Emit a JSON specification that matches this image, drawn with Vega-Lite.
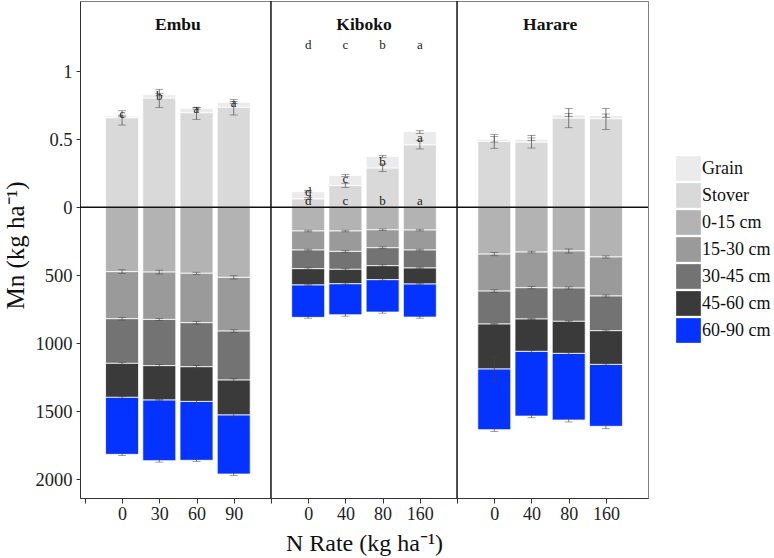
{
  "$schema": "https://vega.github.io/schema/vega-lite/v6.json",
  "autosize": "none",
  "padding": {"left": 80, "top": 1, "right": 126, "bottom": 60},
  "width": 568,
  "height": 497,
  "background": "white",
  "config": {
    "font": "Liberation Serif",
    "view": {"stroke": "#7f7f7f", "strokeWidth": 1},
    "axis": {"grid": false, "domainColor": "#333333", "tickColor": "#333333", "labelColor": "#222222", "titleColor": "#111111", "labelFont": "Liberation Serif", "titleFont": "Liberation Serif", "titleFontWeight": "normal"},
    "legend": {"labelFont": "Liberation Serif"}
  },
  "datasets": {
    "above": [
      {"grp": "Embu|0", "part": "Stover", "value": 659}, {"grp": "Embu|0", "part": "Grain", "value": 12},
      {"grp": "Embu|30", "part": "Stover", "value": 804}, {"grp": "Embu|30", "part": "Grain", "value": 24},
      {"grp": "Embu|60", "part": "Stover", "value": 696}, {"grp": "Embu|60", "part": "Grain", "value": 33},
      {"grp": "Embu|90", "part": "Stover", "value": 737}, {"grp": "Embu|90", "part": "Grain", "value": 35},
      {"grp": "Kiboko|0", "part": "Stover", "value": 63}, {"grp": "Kiboko|0", "part": "Grain", "value": 52},
      {"grp": "Kiboko|40", "part": "Stover", "value": 160}, {"grp": "Kiboko|40", "part": "Grain", "value": 74},
      {"grp": "Kiboko|80", "part": "Stover", "value": 290}, {"grp": "Kiboko|80", "part": "Grain", "value": 84},
      {"grp": "Kiboko|160", "part": "Stover", "value": 460}, {"grp": "Kiboko|160", "part": "Grain", "value": 97},
      {"grp": "Harare|0", "part": "Stover", "value": 485}, {"grp": "Harare|0", "part": "Grain", "value": 15},
      {"grp": "Harare|40", "part": "Stover", "value": 480}, {"grp": "Harare|40", "part": "Grain", "value": 20},
      {"grp": "Harare|80", "part": "Stover", "value": 657}, {"grp": "Harare|80", "part": "Grain", "value": 22},
      {"grp": "Harare|160", "part": "Stover", "value": 652}, {"grp": "Harare|160", "part": "Grain", "value": 22}
    ],
    "soil": [
      {"grp": "Embu|0", "part": "0-15 cm", "value": -473}, {"grp": "Embu|0", "part": "15-30 cm", "value": -346}, {"grp": "Embu|0", "part": "30-45 cm", "value": -328}, {"grp": "Embu|0", "part": "45-60 cm", "value": -250}, {"grp": "Embu|0", "part": "60-90 cm", "value": -419},
      {"grp": "Embu|30", "part": "0-15 cm", "value": -476}, {"grp": "Embu|30", "part": "15-30 cm", "value": -348}, {"grp": "Embu|30", "part": "30-45 cm", "value": -340}, {"grp": "Embu|30", "part": "45-60 cm", "value": -253}, {"grp": "Embu|30", "part": "60-90 cm", "value": -446},
      {"grp": "Embu|60", "part": "0-15 cm", "value": -485}, {"grp": "Embu|60", "part": "15-30 cm", "value": -363}, {"grp": "Embu|60", "part": "30-45 cm", "value": -324}, {"grp": "Embu|60", "part": "45-60 cm", "value": -255}, {"grp": "Embu|60", "part": "60-90 cm", "value": -433},
      {"grp": "Embu|90", "part": "0-15 cm", "value": -515}, {"grp": "Embu|90", "part": "15-30 cm", "value": -395}, {"grp": "Embu|90", "part": "30-45 cm", "value": -360}, {"grp": "Embu|90", "part": "45-60 cm", "value": -257}, {"grp": "Embu|90", "part": "60-90 cm", "value": -434},
      {"grp": "Kiboko|0", "part": "0-15 cm", "value": -174}, {"grp": "Kiboko|0", "part": "15-30 cm", "value": -140}, {"grp": "Kiboko|0", "part": "30-45 cm", "value": -137}, {"grp": "Kiboko|0", "part": "45-60 cm", "value": -120}, {"grp": "Kiboko|0", "part": "60-90 cm", "value": -238},
      {"grp": "Kiboko|40", "part": "0-15 cm", "value": -174}, {"grp": "Kiboko|40", "part": "15-30 cm", "value": -150}, {"grp": "Kiboko|40", "part": "30-45 cm", "value": -132}, {"grp": "Kiboko|40", "part": "45-60 cm", "value": -106}, {"grp": "Kiboko|40", "part": "60-90 cm", "value": -228},
      {"grp": "Kiboko|80", "part": "0-15 cm", "value": -165}, {"grp": "Kiboko|80", "part": "15-30 cm", "value": -132}, {"grp": "Kiboko|80", "part": "30-45 cm", "value": -132}, {"grp": "Kiboko|80", "part": "45-60 cm", "value": -103}, {"grp": "Kiboko|80", "part": "60-90 cm", "value": -238},
      {"grp": "Kiboko|160", "part": "0-15 cm", "value": -167}, {"grp": "Kiboko|160", "part": "15-30 cm", "value": -147}, {"grp": "Kiboko|160", "part": "30-45 cm", "value": -132}, {"grp": "Kiboko|160", "part": "45-60 cm", "value": -118}, {"grp": "Kiboko|160", "part": "60-90 cm", "value": -243},
      {"grp": "Harare|0", "part": "0-15 cm", "value": -344}, {"grp": "Harare|0", "part": "15-30 cm", "value": -272}, {"grp": "Harare|0", "part": "30-45 cm", "value": -242}, {"grp": "Harare|0", "part": "45-60 cm", "value": -331}, {"grp": "Harare|0", "part": "60-90 cm", "value": -446},
      {"grp": "Harare|40", "part": "0-15 cm", "value": -329}, {"grp": "Harare|40", "part": "15-30 cm", "value": -262}, {"grp": "Harare|40", "part": "30-45 cm", "value": -230}, {"grp": "Harare|40", "part": "45-60 cm", "value": -238}, {"grp": "Harare|40", "part": "60-90 cm", "value": -476},
      {"grp": "Harare|80", "part": "0-15 cm", "value": -321}, {"grp": "Harare|80", "part": "15-30 cm", "value": -272}, {"grp": "Harare|80", "part": "30-45 cm", "value": -245}, {"grp": "Harare|80", "part": "45-60 cm", "value": -236}, {"grp": "Harare|80", "part": "60-90 cm", "value": -490},
      {"grp": "Harare|160", "part": "0-15 cm", "value": -365}, {"grp": "Harare|160", "part": "15-30 cm", "value": -287}, {"grp": "Harare|160", "part": "30-45 cm", "value": -255}, {"grp": "Harare|160", "part": "45-60 cm", "value": -248}, {"grp": "Harare|160", "part": "60-90 cm", "value": -455}
    ],
    "err": [
      {"grp": "Embu|0", "lo": -487, "hi": -459}, {"grp": "Embu|0", "lo": -829, "hi": -809}, {"grp": "Embu|0", "lo": -1154, "hi": -1140}, {"grp": "Embu|0", "lo": -1403, "hi": -1391}, {"grp": "Embu|0", "lo": -1824, "hi": -1808}, {"grp": "Embu|0", "lo": 605, "hi": 710}, {"grp": "Embu|0", "lo": 665, "hi": 677},
      {"grp": "Embu|30", "lo": -490, "hi": -462}, {"grp": "Embu|30", "lo": -832, "hi": -816}, {"grp": "Embu|30", "lo": -1172, "hi": -1156}, {"grp": "Embu|30", "lo": -1422, "hi": -1412}, {"grp": "Embu|30", "lo": -1873, "hi": -1853}, {"grp": "Embu|30", "lo": 733, "hi": 868}, {"grp": "Embu|30", "lo": 820, "hi": 836},
      {"grp": "Embu|60", "lo": -493, "hi": -477}, {"grp": "Embu|60", "lo": -858, "hi": -838}, {"grp": "Embu|60", "lo": -1182, "hi": -1162}, {"grp": "Embu|60", "lo": -1437, "hi": -1417}, {"grp": "Embu|60", "lo": -1868, "hi": -1852}, {"grp": "Embu|60", "lo": 647, "hi": 735}, {"grp": "Embu|60", "lo": 722, "hi": 736},
      {"grp": "Embu|90", "lo": -527, "hi": -503}, {"grp": "Embu|90", "lo": -920, "hi": -900}, {"grp": "Embu|90", "lo": -1282, "hi": -1258}, {"grp": "Embu|90", "lo": -1537, "hi": -1517}, {"grp": "Embu|90", "lo": -1971, "hi": -1951}, {"grp": "Embu|90", "lo": 679, "hi": 794}, {"grp": "Embu|90", "lo": 765, "hi": 779},
      {"grp": "Kiboko|0", "lo": -180, "hi": -168}, {"grp": "Kiboko|0", "lo": -320, "hi": -308}, {"grp": "Kiboko|0", "lo": -457, "hi": -445}, {"grp": "Kiboko|0", "lo": -577, "hi": -565}, {"grp": "Kiboko|0", "lo": -815, "hi": -803}, {"grp": "Kiboko|0", "lo": 58, "hi": 70}, {"grp": "Kiboko|0", "lo": 112, "hi": 124},
      {"grp": "Kiboko|40", "lo": -180, "hi": -168}, {"grp": "Kiboko|40", "lo": -330, "hi": -318}, {"grp": "Kiboko|40", "lo": -462, "hi": -450}, {"grp": "Kiboko|40", "lo": -568, "hi": -556}, {"grp": "Kiboko|40", "lo": -800, "hi": -780}, {"grp": "Kiboko|40", "lo": 147, "hi": 177}, {"grp": "Kiboko|40", "lo": 228, "hi": 243},
      {"grp": "Kiboko|80", "lo": -171, "hi": -159}, {"grp": "Kiboko|80", "lo": -303, "hi": -291}, {"grp": "Kiboko|80", "lo": -435, "hi": -423}, {"grp": "Kiboko|80", "lo": -538, "hi": -526}, {"grp": "Kiboko|80", "lo": -778, "hi": -762}, {"grp": "Kiboko|80", "lo": 262, "hi": 318}, {"grp": "Kiboko|80", "lo": 368, "hi": 382},
      {"grp": "Kiboko|160", "lo": -173, "hi": -161}, {"grp": "Kiboko|160", "lo": -320, "hi": -308}, {"grp": "Kiboko|160", "lo": -452, "hi": -440}, {"grp": "Kiboko|160", "lo": -570, "hi": -558}, {"grp": "Kiboko|160", "lo": -815, "hi": -799}, {"grp": "Kiboko|160", "lo": 429, "hi": 493}, {"grp": "Kiboko|160", "lo": 544, "hi": 563},
      {"grp": "Harare|0", "lo": -356, "hi": -332}, {"grp": "Harare|0", "lo": -626, "hi": -606}, {"grp": "Harare|0", "lo": -863, "hi": -853}, {"grp": "Harare|0", "lo": -1277, "hi": -1098}, {"grp": "Harare|0", "lo": -1647, "hi": -1623}, {"grp": "Harare|0", "lo": 434, "hi": 537}, {"grp": "Harare|0", "lo": 480, "hi": 520},
      {"grp": "Harare|40", "lo": -335, "hi": -323}, {"grp": "Harare|40", "lo": -599, "hi": -583}, {"grp": "Harare|40", "lo": -826, "hi": -816}, {"grp": "Harare|40", "lo": -1067, "hi": -1051}, {"grp": "Harare|40", "lo": -1547, "hi": -1523}, {"grp": "Harare|40", "lo": 436, "hi": 529}, {"grp": "Harare|40", "lo": 490, "hi": 510},
      {"grp": "Harare|80", "lo": -336, "hi": -306}, {"grp": "Harare|80", "lo": -601, "hi": -585}, {"grp": "Harare|80", "lo": -843, "hi": -833}, {"grp": "Harare|80", "lo": -1080, "hi": -1068}, {"grp": "Harare|80", "lo": -1578, "hi": -1550}, {"grp": "Harare|80", "lo": 585, "hi": 727}, {"grp": "Harare|80", "lo": 667, "hi": 691},
      {"grp": "Harare|160", "lo": -373, "hi": -357}, {"grp": "Harare|160", "lo": -660, "hi": -644}, {"grp": "Harare|160", "lo": -912, "hi": -902}, {"grp": "Harare|160", "lo": -1160, "hi": -1150}, {"grp": "Harare|160", "lo": -1628, "hi": -1592}, {"grp": "Harare|160", "lo": 573, "hi": 727}, {"grp": "Harare|160", "lo": 662, "hi": 686}
    ],
    "letters": [
      {"grp": "Embu|0", "y": 654, "t": "c"}, {"grp": "Embu|30", "y": 789, "t": "b"}, {"grp": "Embu|60", "y": 691, "t": "a"}, {"grp": "Embu|90", "y": 735, "t": "a"},
      {"grp": "Kiboko|0", "y": 1164, "t": "d"}, {"grp": "Kiboko|40", "y": 1164, "t": "c"}, {"grp": "Kiboko|80", "y": 1164, "t": "b"}, {"grp": "Kiboko|160", "y": 1164, "t": "a"},
      {"grp": "Kiboko|0", "y": 83, "t": "d"}, {"grp": "Kiboko|40", "y": 181, "t": "c"}, {"grp": "Kiboko|80", "y": 306, "t": "b"}, {"grp": "Kiboko|160", "y": 478, "t": "a"},
      {"grp": "Kiboko|0", "y": 17, "t": "d"}, {"grp": "Kiboko|40", "y": 17, "t": "c"}, {"grp": "Kiboko|80", "y": 17, "t": "b"}, {"grp": "Kiboko|160", "y": 17, "t": "a"}
    ],
    "sites": [
      {"grp": "Embu|30", "site": "Embu"}, {"grp": "Kiboko|40", "site": "Kiboko"}, {"grp": "Harare|40", "site": "Harare"}
    ],
    "seps": [{"grp": "sep1"}, {"grp": "sep2"}]
  },
  "encoding": {
    "x": {
      "field": "grp", "type": "nominal",
      "scale": {"type": "point", "padding": 0.13, "domain": ["blank", "Embu|0", "Embu|30", "Embu|60", "Embu|90", "sep1", "Kiboko|0", "Kiboko|40", "Kiboko|80", "Kiboko|160", "sep2", "Harare|0", "Harare|40", "Harare|80", "Harare|160", "end"]},
      "axis": {
        "title": "N Rate (kg ha⁻¹)",
        "values": ["blank", "Embu|0", "Embu|30", "Embu|60", "Embu|90", "sep1", "Kiboko|0", "Kiboko|40", "Kiboko|80", "Kiboko|160", "sep2", "Harare|0", "Harare|40", "Harare|80", "Harare|160"],
        "labelExpr": "indexof(datum.value, '|') >= 0 ? slice(datum.value, indexof(datum.value, '|') + 1) : ''",
        "labelAngle": 0, "labelFontSize": 18, "labelPadding": 2, "tickSize": 5,
        "titleFontSize": 24, "titleBaseline": "alphabetic", "titleY": 52, "titleX": 284
      }
    }
  },
  "layer": [
    {
      "data": {"name": "above"},
      "mark": {"type": "bar", "width": 33, "stroke": "white", "strokeWidth": 0.8},
      "encoding": {
        "y": {
          "field": "value", "type": "quantitative", "stack": "zero",
          "scale": {"domain": [-2137, 1517], "nice": false, "zero": false},
          "axis": {
            "title": "Mn (kg ha⁻¹)", "titleFontSize": 25, "titleX": -57, "titleY": 244, "titleBaseline": "alphabetic",
            "values": [1000, 500, 0, -500, -1000, -1500, -2000],
            "labelExpr": "datum.value > 0 ? '' + (datum.value / 1000) : '' + (-datum.value)",
            "labelFontSize": 18.5, "tickSize": 4, "labelPadding": 4
          }
        },
        "color": {
          "field": "part", "type": "nominal",
          "scale": {"domain": ["Grain", "Stover", "0-15 cm", "15-30 cm", "30-45 cm", "45-60 cm", "60-90 cm"], "range": ["#EBEBEB", "#D9D9D9", "#B3B3B3", "#9A9A9A", "#737373", "#3A3A3A", "#0433FF"]},
          "legend": {"title": null, "orient": "none", "legendX": 596, "legendY": 155, "symbolType": "square", "symbolSize": 610, "symbolStrokeWidth": 0, "symbolOpacity": 1, "rowPadding": 2, "labelOffset": 1, "labelFontSize": 18, "labelColor": "#111111", "padding": 0}
        },
        "order": {"field": "part", "sort": "descending"}
      }
    },
    {
      "data": {"name": "soil"},
      "mark": {"type": "bar", "width": 33, "stroke": "white", "strokeWidth": 0.8},
      "encoding": {
        "y": {"field": "value", "type": "quantitative", "stack": "zero"},
        "color": {"field": "part", "type": "nominal"},
        "order": {"field": "part", "sort": "ascending"}
      }
    },
    {
      "data": {"name": "err"},
      "mark": {"type": "rule", "color": "#444444", "strokeWidth": 0.7},
      "encoding": {"y": {"field": "lo", "type": "quantitative"}, "y2": {"field": "hi"}}
    },
    {
      "data": {"name": "err"},
      "mark": {"type": "tick", "color": "#444444", "size": 8, "thickness": 0.7, "orient": "horizontal"},
      "encoding": {"y": {"field": "lo", "type": "quantitative"}}
    },
    {
      "data": {"name": "err"},
      "mark": {"type": "tick", "color": "#444444", "size": 8, "thickness": 0.7, "orient": "horizontal"},
      "encoding": {"y": {"field": "hi", "type": "quantitative"}}
    },
    {
      "data": {"name": "letters"},
      "mark": {"type": "text", "fontSize": 13, "baseline": "alphabetic", "color": "#222222", "font": "Liberation Serif"},
      "encoding": {"y": {"field": "y", "type": "quantitative"}, "text": {"field": "t"}}
    },
    {
      "data": {"name": "sites"},
      "mark": {"type": "text", "fontSize": 17.5, "fontWeight": "bold", "baseline": "alphabetic", "dx": 18.6, "color": "#111111", "font": "Liberation Serif"},
      "encoding": {"y": {"datum": 1304}, "text": {"field": "site"}}
    },
    {
      "data": {"name": "seps"},
      "mark": {"type": "rule", "color": "#111111", "strokeWidth": 1.5},
      "encoding": {}
    },
    {
      "data": {"values": [{}]},
      "mark": {"type": "rule", "color": "#111111", "strokeWidth": 1.5},
      "encoding": {"y": {"datum": 0}, "x": {"value": 0}, "x2": {"value": 568}}
    }
  ]
}
